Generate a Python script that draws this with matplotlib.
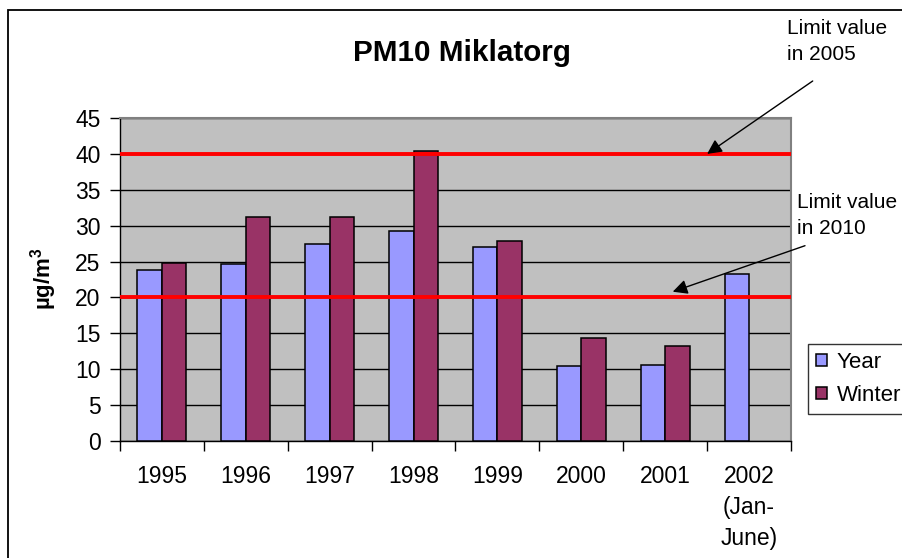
import matplotlib
matplotlib.use("Agg")
import matplotlib.pyplot as plt
from matplotlib.patches import Rectangle
import numpy as np

plt.rcParams['font.family'] = ['Liberation Sans', 'DejaVu Sans']
plt.rcParams['mathtext.fontset'] = 'custom'
plt.rcParams['mathtext.rm'] = 'Liberation Sans:bold'
plt.rcParams['mathtext.bf'] = 'Liberation Sans:bold'

categories = ["1995", "1996", "1997", "1998", "1999", "2000", "2001", "2002\n(Jan-\nJune)"]
year_values = [23.8, 24.6, 27.4, 29.2, 27.0, 10.4, 10.6, 23.2]
winter_values = [24.8, 31.2, 31.2, 40.4, 27.8, 14.4, 13.2, np.nan]
limit_2005 = 40
limit_2010 = 20
yticks = list(range(0, 50, 5))

W, H = 903, 558
fig = plt.figure(figsize=(W / 100, H / 100), dpi=100)
ax = fig.add_axes([120 / W, 1 - 441 / H, 671 / W, 323 / H])
ax.set_facecolor('#C0C0C0')

x = np.arange(len(categories))
bw = 0.292
ax.bar(x - bw / 2, year_values, bw, color='#9999FF', edgecolor='black', linewidth=1.1, label='Year', zorder=3)
ax.bar(x + bw / 2, winter_values, bw, color='#993366', edgecolor='black', linewidth=1.1, label='Winter', zorder=3)

ax.set_xlim(-0.5, len(categories) - 0.5)
ax.set_ylim(0, 45)
ax.set_yticks(yticks)
ax.yaxis.grid(True, color='black', linewidth=1.0, zorder=1)
ax.set_axisbelow(True)

ax.axhline(limit_2005, color='#FF0000', linewidth=2.8, zorder=4)
ax.axhline(limit_2010, color='#FF0000', linewidth=2.8, zorder=4)

ax.set_xticks(x)
ax.set_xticklabels(categories, fontsize=16.5, linespacing=1.45, va='top')
ax.set_xticks(np.arange(-0.5, len(categories)), minor=True)
ax.tick_params(axis='x', which='major', length=0, pad=17)
ax.tick_params(axis='x', which='minor', length=7, width=1, direction='out', color='black')
ax.tick_params(axis='y', length=7, width=1, direction='out', labelsize=16.5, pad=7)

for s in ['left', 'bottom']:
    ax.spines[s].set_color('black')
    ax.spines[s].set_linewidth(1.0)
for s in ['top', 'right']:
    ax.spines[s].set_color('#808080')
    ax.spines[s].set_linewidth(1.5)

fig.text(462 / W, 1 - 60.7 / H, 'PM10 Miklatorg', fontsize=21.3, fontweight='bold',
         ha='center', va='baseline')
fig.text(44 / W, 1 - 279 / H, r'µg/m$^{3}$', rotation=90, fontsize=16, fontweight='bold',
         ha='center', va='center')

fig.text(787 / W, 1 - 19 / H, 'Limit value\nin 2005', fontsize=15, ha='left', va='top', linespacing=1.45)
fig.text(797 / W, 1 - 193 / H, 'Limit value\nin 2010', fontsize=15, ha='left', va='top', linespacing=1.45)

arrow = dict(arrowstyle='-|>', mutation_scale=22, lw=1.0, color='black', shrinkA=0, shrinkB=0)
ax.annotate('', xy=(6.50, 40), xycoords='data', xytext=(812.7, H - 81), textcoords='figure pixels',
            arrowprops=arrow, annotation_clip=False, zorder=6)
ax.annotate('', xy=(6.09, 20.8), xycoords='data', xytext=(805, H - 245.7), textcoords='figure pixels',
            arrowprops=arrow, annotation_clip=False, zorder=6)

leg = fig.legend(loc='upper left', bbox_to_anchor=(808 / W, 1 - 344 / H), fontsize=16,
                 frameon=True, fancybox=False, shadow=False, handlelength=0.5, handleheight=0.5,
                 handletextpad=0.45, borderpad=0.35, labelspacing=0.55, borderaxespad=0)
leg.get_frame().set_edgecolor('black')
leg.get_frame().set_linewidth(1.0)

fig.patches.append(Rectangle((8 / W, -0.2), 1.2, 1.2 - 10 / H, transform=fig.transFigure,
                             fill=False, edgecolor='black', linewidth=1.3))

fig.savefig('out.png', dpi=100)
